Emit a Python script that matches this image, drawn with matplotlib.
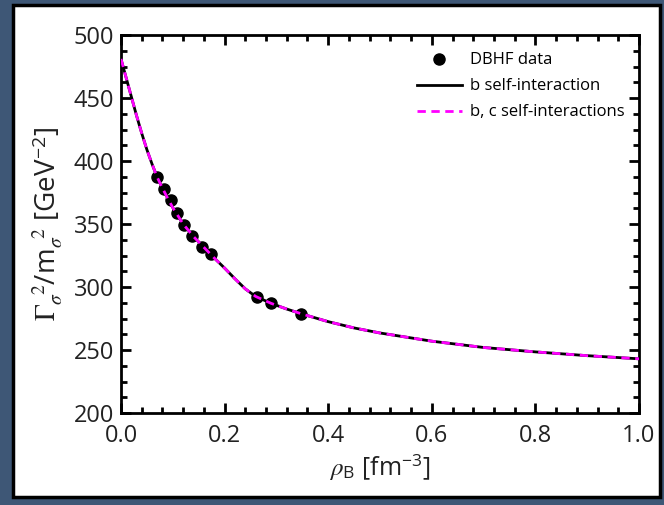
import matplotlib
matplotlib.use('Agg')
import matplotlib.pyplot as plt
from matplotlib.patches import Rectangle
from matplotlib.ticker import MultipleLocator
import numpy as np

plt.rcParams['mathtext.fontset'] = 'stix'
plt.rcParams['font.family'] = ['Open Sans', 'DejaVu Sans']

# DBHF points
rho_dbhf = [0.070, 0.083, 0.096, 0.108, 0.121, 0.137, 0.157, 0.173, 0.262, 0.289, 0.347]
gam_dbhf = [387.0, 378.0, 369.0, 359.0, 349.5, 340.5, 332.0, 326.0, 292.0, 287.5, 278.5]

# fitted curve (b and b,c self-interactions coincide)
rho_fit = [0.0, 0.01, 0.02, 0.03, 0.04, 0.05, 0.06, 0.07, 0.08, 0.09, 0.10, 0.12,
           0.14, 0.16, 0.18, 0.20, 0.22, 0.24, 0.26, 0.29, 0.32, 0.35, 0.40, 0.45,
           0.50, 0.60, 0.70, 0.80, 0.90, 1.00]
gam_b = [481.0, 466.0, 451.0, 436.0, 422.0, 409.0, 397.5, 387.0, 378.5, 370.5, 363.0,
         350.0, 340.0, 331.5, 323.0, 315.0, 306.5, 298.5, 292.5, 287.0, 282.5, 278.5,
         272.5, 267.5, 263.5, 257.0, 252.0, 248.5, 245.5, 243.0]
gam_bc = list(gam_b)

fig = plt.figure(figsize=(6.64, 5.05), dpi=100, facecolor='#3e5776')
fig.patches.append(Rectangle((13 / 664, 8 / 505), 647 / 664, 492 / 505,
                             transform=fig.transFigure, facecolor='white',
                             edgecolor='black', linewidth=2.5, zorder=-5))

ax = fig.add_axes([121 / 664, 92 / 505, 518 / 664, 378 / 505])
ax.set_zorder(2)
ax.set_facecolor('white')

ax.plot(rho_dbhf, gam_dbhf, 'o', color='black', markersize=8, zorder=2,
        label='DBHF data')
ax.plot(rho_fit, gam_b, '-', color='black', lw=2, zorder=3,
        label='b self-interaction')
ax.plot(rho_fit, gam_bc, '--', color='#ff00ff', lw=2, dashes=(3, 2), zorder=4,
        label='b, c self-interactions')

ax.set_xlim(0, 1.0)
ax.set_ylim(200, 500)
ax.xaxis.set_major_locator(MultipleLocator(0.2))
ax.xaxis.set_minor_locator(MultipleLocator(0.04))
ax.yaxis.set_major_locator(MultipleLocator(50))
ax.yaxis.set_minor_locator(MultipleLocator(12.5))
ax.tick_params(which='both', direction='in', top=True, right=True, width=2,
               labelsize=17, labelcolor='#222222')
ax.tick_params(which='major', length=7)
ax.tick_params(which='minor', length=4)
ax.tick_params(axis='x', which='major', pad=8)
ax.tick_params(axis='y', which='major', pad=5)
for sp in ax.spines.values():
    sp.set_linewidth(2)

ax.set_xticks([0.0, 0.2, 0.4, 0.6, 0.8, 1.0])
ax.set_xticklabels(['0.0', '0.2', '0.4', '0.6', '0.8', '1.0'])

ax.set_xlabel(r'$\rho_{\mathregular{B}}$ [fm$^{\mathregular{-3}}$]', fontsize=18,
              labelpad=3, color='#222222')
ax.set_ylabel(r'$\Gamma_\sigma^{\ \ 2}$/m$_\sigma^{\ \ 2}$ [GeV$^{\mathregular{-2}}$]',
              fontsize=20, labelpad=6, color='#222222')

leg = ax.legend(loc='upper right', frameon=False,
                prop={'size': 12},
                handlelength=2.7, handletextpad=0.5, borderaxespad=0.3,
                labelspacing=0.6, bbox_to_anchor=(0.995, 0.985))

fig.savefig('out.png', dpi=100, facecolor=fig.get_facecolor())
